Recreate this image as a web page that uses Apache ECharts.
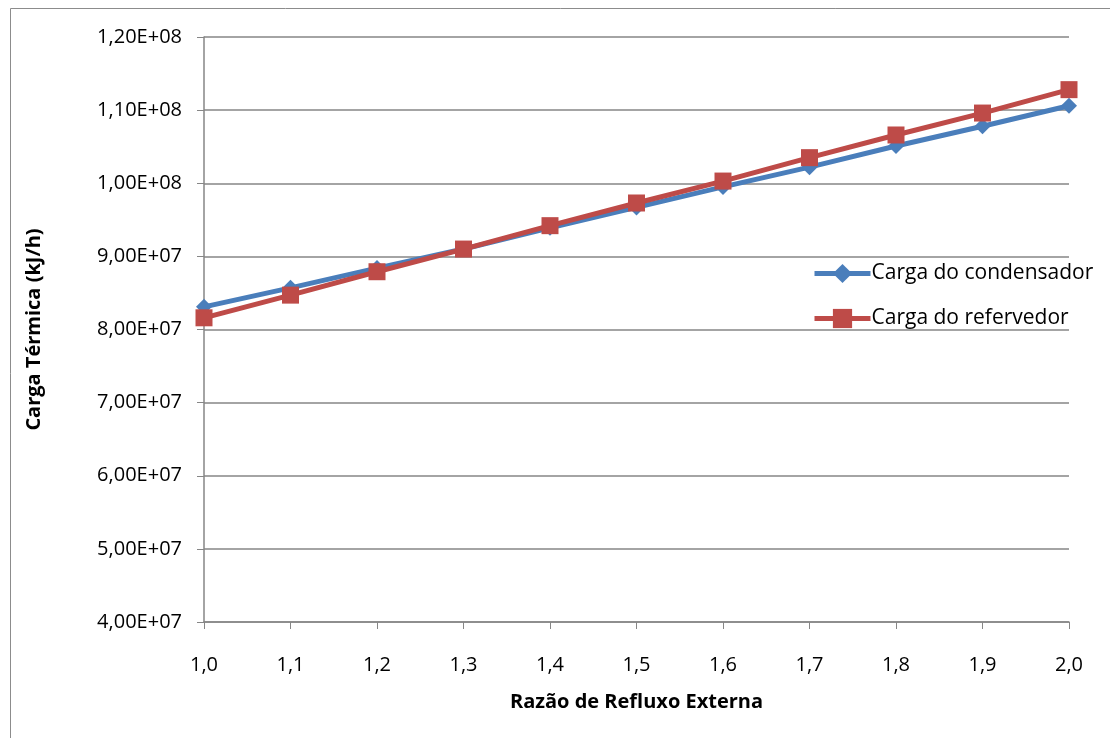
<!DOCTYPE html>
<html>
<head>
<meta charset="utf-8">
<script src="https://cdn.jsdelivr.net/npm/echarts@6/dist/echarts.min.js"></script>
<style>html,body{margin:0;padding:0;background:#fff}#c{width:1110px;height:738px}</style>
</head>
<body>
<div id="c"></div>
<script>
var xValues = [1.0, 1.1, 1.2, 1.3, 1.4, 1.5, 1.6, 1.7, 1.8, 1.9, 2.0];
var condensador = [8.31e7, 8.57e7, 8.84e7, 9.10e7, 9.39e7, 9.67e7, 9.95e7, 1.022e8, 1.051e8, 1.078e8, 1.106e8];
var refervedor = [8.16e7, 8.47e7, 8.79e7, 9.10e7, 9.42e7, 9.73e7, 1.003e8, 1.035e8, 1.066e8, 1.096e8, 1.128e8];
var seriesNames = ['Carga do condensador', 'Carga do refervedor'];
var xTitle = 'Razão de Refluxo Externa';
var yTitle = 'Carga Térmica (kJ/h)';

function pairs(ys){ return xValues.map(function(x,i){ return [x, ys[i]]; }); }
function fmtY(v){
  var e = Math.floor(Math.log10(v) + 1e-9);
  var m = v / Math.pow(10, e);
  return m.toFixed(2).replace('.', ',') + 'E+' + (e < 10 ? '0' + e : e);
}
var font = '"Open Sans", "Liberation Sans", sans-serif';
var chart = echarts.init(document.getElementById('c'), null, {renderer:'canvas'});
chart.setOption({
  animation: false,
  backgroundColor: '#fff',
  graphic: [{type:'rect', shape:{x:10.5, y:8.5, width:1120, height:760}, style:{fill:'none', stroke:'#8c8c8c', lineWidth:1}, silent:true}],
  grid: {left:204, right:41, top:37, bottom:116},
  legend: {
    orient:'vertical', left:807, top:258, itemGap:24, itemWidth:56, itemHeight:24,
    textStyle:{fontFamily:font, fontSize:21, color:'#000', padding:[0,0,0,-4]},
    lineStyle:{width:5},
    data: seriesNames
  },
  xAxis: {
    type:'value', min:1, max:2, interval:0.1,
    name:xTitle, nameLocation:'middle', nameGap:70,
    nameTextStyle:{fontFamily:font, fontSize:20, fontWeight:'bold', color:'#000'},
    axisLine:{lineStyle:{color:'#868686', width:1.5}},
    axisTick:{show:true, length:7, inside:false, lineStyle:{color:'#868686'}},
    axisLabel:{fontFamily:font, fontSize:20, color:'#000', margin:33, formatter:function(v){return v.toFixed(1).replace('.',',');}},
    splitLine:{show:false}
  },
  yAxis: {
    type:'value', min:4e7, max:1.2e8, interval:1e7,
    name:yTitle, nameLocation:'middle', nameGap:160, nameRotate:90,
    nameTextStyle:{fontFamily:font, fontSize:20, fontWeight:'bold', color:'#000'},
    axisLine:{show:true, lineStyle:{color:'#868686', width:1.5}},
    axisTick:{show:true, length:7, lineStyle:{color:'#868686'}},
    axisLabel:{fontFamily:font, fontSize:20, color:'#000', margin:22, formatter:fmtY},
    splitLine:{show:true, lineStyle:{color:'#868686', width:1.5}}
  },
  series: [
    {name:seriesNames[0], type:'line', data:pairs(condensador), symbol:'diamond', symbolSize:16,
     lineStyle:{color:'#4a7ebb', width:5}, itemStyle:{color:'#4a7ebb'}, z:2},
    {name:seriesNames[1], type:'line', data:pairs(refervedor), symbol:'rect', symbolSize:17,
     lineStyle:{color:'#be4b48', width:5}, itemStyle:{color:'#be4b48'}, z:3}
  ]
});
</script>
</body>
</html>
